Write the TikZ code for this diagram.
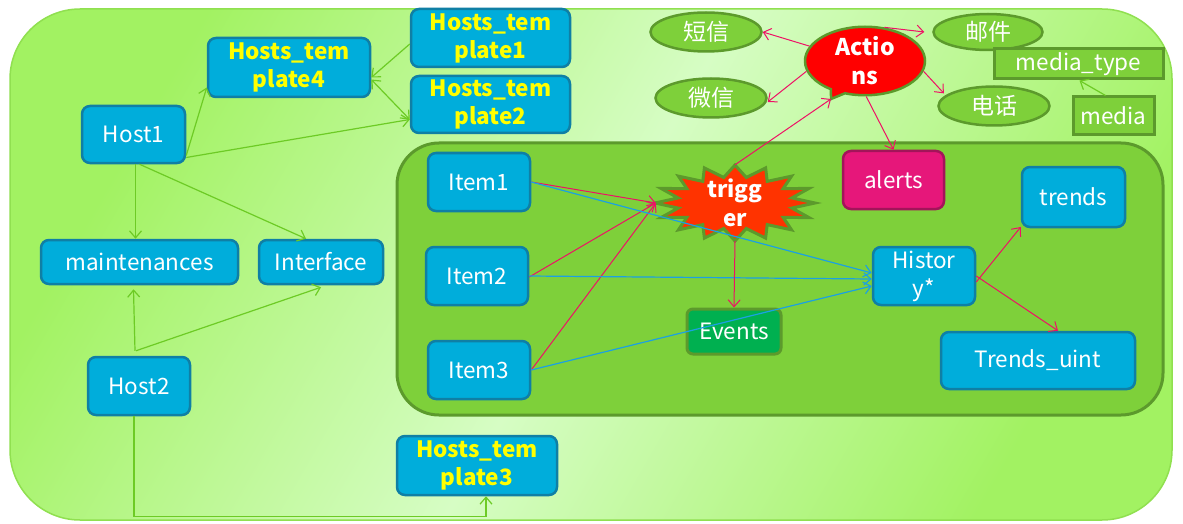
\documentclass[tikz,border=0pt]{standalone}
\usepackage{fontspec}
\setmainfont{Noto Sans CJK SC}
\usepackage{tikz}
\usetikzlibrary{shapes.geometric,shapes.callouts,arrows.meta}

\definecolor{boxfill}{HTML}{00ADDB}
\definecolor{boxedge}{HTML}{0F7FA5}
\definecolor{grnfill}{HTML}{7ED03A}
\definecolor{grnedge}{HTML}{5C9A2C}
\definecolor{outerdark}{HTML}{A2F262}
\definecolor{outerlight}{HTML}{D6FDC4}
\definecolor{outerline}{HTML}{90E050}
\definecolor{arrgreen}{HTML}{6DCB25}
\definecolor{arrred}{HTML}{EE1166}
\definecolor{arrblue}{HTML}{1BA1E2}
\definecolor{alertfill}{HTML}{E6177A}
\definecolor{alertedge}{HTML}{A3145A}
\definecolor{evfill}{HTML}{00B050}
\definecolor{trigfill}{HTML}{FF3300}
\definecolor{tpltext}{HTML}{FFFF00}

\begin{document}
\begin{tikzpicture}[x=1pt, y=-1pt,
    hostbox/.style={rectangle, rounded corners=8pt, draw=boxedge, fill=boxfill, line width=2.5pt,
      text=white, align=center, inner sep=0pt, font=\fontsize{22.5}{28}\selectfont},
    tplbox/.style={hostbox, text=tpltext, font=\fontsize{22.5}{28}\selectfont\bfseries},
    chanbox/.style={ellipse, draw=grnedge, fill=grnfill, line width=2.5pt, text=white,
      inner sep=0pt, minimum width=111pt, minimum height=39pt, font=\fontsize{23}{26}\selectfont},
    mediabox/.style={rectangle, draw=grnedge, fill=grnfill, line width=3pt, text=white,
      inner sep=0pt, font=\fontsize{22.5}{26}\selectfont},
    greenarrow/.style={draw=arrgreen, line width=1.2pt, -{Straight Barb[length=7pt,width=12pt]}},
    redarrow/.style={draw=arrred, line width=1pt, -{Straight Barb[length=7pt,width=12pt]}},
    bluearrow/.style={draw=arrblue, line width=1.2pt, -{Straight Barb[length=7pt,width=12pt]}}]

    \useasboundingbox (0,0) rectangle (1183,524);
    \fill[white] (0,0) rectangle (1183,524);

    % Outer and inner panels
    \shade[draw=outerline, line width=1.5pt, rounded corners=70pt,
      left color=outerdark, right color=outerdark, middle color=outerlight, shading angle=60]
      (10,9) rectangle (1172,520);
    \draw[draw=grnedge, fill=grnfill, line width=3pt, rounded corners=42pt]
      (397,143) rectangle (1163,415);

    % Hosts and templates
    \node[hostbox, minimum width=103pt, minimum height=57pt] (host1) at (133.5,134.5) {Host1};
    \node[hostbox, minimum width=102pt, minimum height=58pt] (host2) at (139,386) {Host2};
    \node[hostbox, minimum width=197pt, minimum height=44pt] (maint) at (139.5,262) {maintenances};
    \node[hostbox, minimum width=124pt, minimum height=44pt] (iface) at (321,262) {Interface};
    \node[tplbox, minimum width=162pt, minimum height=59pt] (tpl4) at (289,67.5) {Hosts\_tem\\plate4};
    \node[tplbox, minimum width=159pt, minimum height=58pt] (tpl1) at (490.5,38) {Hosts\_tem\\plate1};
    \node[tplbox, minimum width=159pt, minimum height=57pt] (tpl2) at (490.5,104.5) {Hosts\_tem\\plate2};
    \node[tplbox, minimum width=160pt, minimum height=59pt] (tpl3) at (477,465.5) {Hosts\_tem\\plate3};

    % Items and data
    \node[hostbox, minimum width=102pt, minimum height=58pt] (item1) at (479,182) {Item1};
    \node[hostbox, minimum width=102pt, minimum height=58pt] (item2) at (477,276) {Item2};
    \node[hostbox, minimum width=102pt, minimum height=58pt] (item3) at (479,370) {Item3};
    \node[hostbox, minimum width=102pt, minimum height=58pt] (hist) at (924,276) {Histor\\y*};
    \node[hostbox, minimum width=103pt, minimum height=60pt] (trends) at (1073.5,197) {trends};
    \node[hostbox, minimum width=194pt, minimum height=57pt] (tuint) at (1038,360.5) {Trends\_uint};
    \node[hostbox, draw=alertedge, fill=alertfill, minimum width=101pt, minimum height=58pt] (alerts) at (893.5,180) {alerts};
    \node[hostbox, draw=grnedge, fill=evfill, line width=3pt, rounded corners=6pt,
      minimum width=94pt, minimum height=45pt] (events) at (734,331.5) {Events};

    % Trigger star
    \draw[draw=grnedge, fill=trigfill, line width=3pt, line join=miter]
      (815,203) \foreach \i in {1,...,31}{
        -- ({735+ifthenelse(mod(\i,2)==0,80,58)*cos(\i*11.25)}, {203+ifthenelse(mod(\i,2)==0,38,26)*sin(\i*11.25)})
      } -- cycle;
    \node[ellipse, minimum width=158pt, minimum height=76pt, inner sep=0pt, text=white, align=center,
      font=\fontsize{22.5}{29}\selectfont\bfseries] (trigger) at (735,203) {trigg\\er};

    % Actions and channels
    \coordinate (acttip) at (831,99);
    \node[ellipse callout, callout absolute pointer={(acttip)}, draw=grnedge, fill=red, line width=2.5pt,
      minimum width=120pt, minimum height=54pt, inner sep=0pt, text=white, align=center,
      font=\fontsize{23}{29}\selectfont\bfseries] (actions) at (865,61) {Actio\\ns};
    \node[chanbox] (sms) at (706,32) {短信};
    \node[chanbox] (wechat) at (711,98) {微信};
    \node[chanbox, minimum width=109pt, minimum height=36pt] (mail) at (988,32) {邮件};
    \node[chanbox] (phone) at (994,106) {电话};
    \node[mediabox, minimum width=169pt, minimum height=30pt] (mtype) at (1078.5,64) {media\_type};
    \node[mediabox, minimum width=81pt, minimum height=38pt] (media) at (1113.5,116) {media};

    % Host links
    \draw[greenarrow] ([yshift=-21pt]host1.east) -- ([yshift=-20pt]tpl4.west);
    \draw[greenarrow] ([yshift=-23pt]host1.east) -- ([yshift=-15pt]tpl2.west);
    \draw[greenarrow] ([yshift=-6pt]tpl1.west) -- ([yshift=-10pt]tpl4.east);
    \draw[greenarrow, {Straight Barb[length=7pt,width=12pt]}-{Straight Barb[length=7pt,width=12pt]}]
      ([yshift=-12pt]tpl4.east) -- ([yshift=-15pt]tpl2.west);
    \draw[greenarrow] ([xshift=2pt]host1.south) -- ([xshift=-4pt]maint.north);
    \draw[greenarrow] ([xshift=6pt]host1.south) -- ([xshift=-15pt]iface.north);
    \draw[greenarrow] ([xshift=-4pt,yshift=5pt]host2.north) -- ([xshift=-6pt,yshift=-4pt]maint.south);
    \draw[greenarrow] ([xshift=-3pt,yshift=5pt]host2.north) -- ([yshift=-2pt]iface.south);
    \draw[greenarrow] ([xshift=-5pt]host2.south) -- ++(0,100) -| ([xshift=9pt]tpl3.south);
    \draw[greenarrow] ([xshift=-8pt]media.north) -- ([xshift=1pt]mtype.south);

    % Item links
    \draw[redarrow] (item1.east) -- (trigger.west);
    \draw[redarrow] ([yshift=-1pt]item2.east) -- (trigger.west);
    \draw[redarrow] (item3.east) -- (trigger.west);
    \draw[bluearrow] (item1.east) -- ([yshift=3pt]hist.west);
    \draw[bluearrow] (item2.east) -- ([yshift=-3pt]hist.west);
    \draw[bluearrow] (item3.east) -- ([yshift=-10pt]hist.west);
    \draw[redarrow] (trigger.south) -- (events.north);
    \draw[redarrow] (trigger.north) -- (acttip);
    \draw[redarrow] ([yshift=-6pt]hist.east) -- ([yshift=-30pt]trends.west);
    \draw[redarrow] (hist.east) -- ([xshift=20pt]tuint.north);

    % Action links
    \draw[redarrow] (actions.165) -- (sms.east);
    \draw[redarrow] (actions.190) -- ([yshift=-4pt]wechat.east);
    \draw[redarrow] (actions.60) -- ([xshift=-8pt]mail.west);
    \draw[redarrow] (actions.-10) -- ([xshift=-10pt,yshift=-2pt]phone.north west);
    \draw[redarrow] (actions.-88) -- (alerts.north);

\end{tikzpicture}
\end{document}
